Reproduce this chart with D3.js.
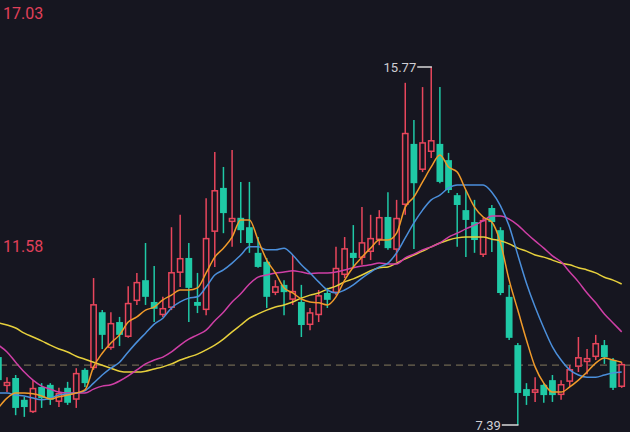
<!DOCTYPE html>
<html><head><meta charset="utf-8">
<script src="https://cdn.jsdelivr.net/npm/d3@7/dist/d3.min.js"></script>
<style>html,body{margin:0;padding:0;background:#15151f;overflow:hidden}svg{display:block}</style>
</head><body><div id="chart"></div>
<script>
// Candle data: open, high, low, close
const opens  = [8.98,8.30,8.49,7.98,7.69,8.28,8.33,7.93,8.26,7.98,8.68,8.72,10.03,9.19,9.80,9.45,10.29,10.78,10.27,9.96,10.13,10.95,11.30,10.27,10.08,11.91,12.94,12.14,12.24,12.02,11.42,11.21,10.48,10.67,10.32,10.27,9.73,9.96,10.48,10.48,10.90,11.42,11.30,11.44,11.72,12.26,11.49,12.54,13.97,13.36,13.78,13.97,13.59,12.77,12.42,12.14,11.37,12.47,11.95,10.39,9.26,8.23,8.14,8.33,8.44,8.09,8.40,8.75,8.86,8.98,9.26,8.91,8.28];
const highs  = [9.03,8.51,8.56,8.05,8.44,8.37,8.37,8.26,8.40,8.72,8.72,10.83,10.08,10.03,9.92,10.64,10.95,11.65,11.11,10.39,12.02,12.31,11.65,10.95,12.70,13.78,13.43,13.83,13.08,13.08,11.79,11.30,10.78,10.78,11.37,10.67,10.13,10.55,10.60,11.56,11.79,12.07,12.49,12.31,12.42,12.84,12.66,15.40,14.53,15.30,15.77,15.30,13.76,12.82,12.89,12.66,12.24,12.54,12.02,10.67,9.31,8.37,8.51,8.37,8.56,8.44,8.79,9.45,9.17,9.50,9.38,8.96,8.86];
const lows   = [8.40,8.16,7.62,7.58,7.67,7.79,7.86,7.81,7.86,7.79,8.28,8.68,9.17,9.15,9.24,9.43,10.20,10.20,9.80,9.92,10.08,10.62,9.80,10.01,9.96,11.09,11.88,11.56,11.65,11.42,11.07,10.13,10.43,9.96,10.20,9.45,9.61,9.80,10.13,10.43,10.83,11.09,11.14,11.25,11.60,11.49,11.21,12.31,11.51,13.31,13.64,13.05,12.82,11.56,11.32,11.42,11.32,11.44,10.43,9.38,7.39,7.86,7.93,7.91,7.93,7.98,8.28,8.63,8.58,8.91,8.82,8.21,8.26];
const closes = [8.44,8.40,7.79,7.81,8.26,8.02,7.98,8.14,7.91,8.61,8.37,10.22,9.50,9.78,9.50,10.25,10.74,10.39,10.11,10.13,10.97,11.30,10.60,10.18,11.77,12.89,12.35,12.24,11.95,11.65,11.09,10.39,10.64,10.50,10.53,9.73,10.03,10.43,10.32,11.07,11.53,11.30,11.67,11.77,12.26,11.53,12.24,14.23,13.05,14.01,14.06,13.08,12.89,12.54,12.19,11.72,12.19,12.14,10.48,9.43,8.14,8.07,8.23,8.09,8.09,8.35,8.70,8.98,8.96,9.31,8.98,8.26,8.82];

// Moving averages as drawn
const ma5  = [7.79,8.02,8.14,8.14,8.12,8.07,8.00,8.05,8.09,8.14,8.21,8.75,9.07,9.31,9.50,9.80,9.92,10.08,10.15,10.32,10.43,10.55,10.55,10.60,10.95,11.32,11.53,11.79,12.19,12.19,11.72,11.25,10.95,10.60,10.48,10.34,10.27,10.25,10.20,10.39,10.78,11.09,11.32,11.53,11.72,11.72,11.88,12.49,12.73,13.08,13.43,13.71,13.43,13.31,12.89,12.49,12.26,12.14,11.65,10.78,10.08,9.38,8.75,8.37,8.16,8.16,8.28,8.44,8.63,8.84,8.96,8.91,8.86];
const ma10 = [8.14,8.14,8.09,8.07,8.02,7.98,8.02,8.09,8.12,8.14,8.19,8.37,8.56,8.72,8.86,9.10,9.33,9.54,9.75,9.89,10.13,10.27,10.36,10.39,10.62,10.90,11.02,11.18,11.37,11.56,11.56,11.49,11.49,11.53,11.37,11.14,10.95,10.74,10.55,10.48,10.55,10.67,10.83,10.97,11.09,11.18,11.42,11.77,12.12,12.42,12.66,12.77,12.94,13.01,13.01,13.01,13.01,12.84,12.52,12.05,11.37,10.71,10.15,9.66,9.22,8.91,8.68,8.56,8.51,8.51,8.56,8.61,8.63];
const ma20 = [9.26,9.10,8.86,8.63,8.44,8.30,8.23,8.16,8.14,8.14,8.14,8.23,8.30,8.33,8.42,8.54,8.68,8.82,8.91,8.98,9.10,9.26,9.40,9.50,9.61,9.83,10.03,10.27,10.46,10.69,10.85,10.90,10.95,10.97,11.00,10.97,10.93,10.95,10.95,10.97,11.02,11.07,11.11,11.14,11.18,11.16,11.16,11.30,11.39,11.49,11.56,11.65,11.79,11.88,11.98,12.07,12.17,12.28,12.28,12.21,12.07,11.88,11.70,11.53,11.35,11.21,10.97,10.74,10.48,10.25,9.99,9.78,9.57];
const ma30 = [9.78,9.73,9.66,9.54,9.45,9.36,9.26,9.17,9.10,9.00,8.93,8.86,8.79,8.72,8.65,8.63,8.63,8.65,8.70,8.75,8.82,8.91,8.98,9.05,9.15,9.26,9.40,9.57,9.73,9.89,9.99,10.08,10.15,10.20,10.27,10.36,10.43,10.48,10.57,10.64,10.74,10.81,10.90,11.00,11.07,11.09,11.18,11.28,11.37,11.46,11.56,11.65,11.72,11.77,11.79,11.79,11.79,11.74,11.70,11.63,11.53,11.46,11.37,11.32,11.25,11.18,11.14,11.07,11.02,10.95,10.85,10.78,10.69];

const axisLabels = [17.03, 11.58];
const refLine = 8.79;
const maxMark = {value: 15.77, index: 50};
const minMark = {value: 7.39, index: 60};

const W = 630, H = 432;
const BG = "#161620", RED = "#e8465c", TEAL = "#1fc9a6";
const idx = d3.range(opens.length);
const x = d3.scaleLinear().domain([0, opens.length - 1]).range([-1.66, 621.7]);
const y = d3.scaleLinear().domain([7.39, 15.77]).range([425, 67]);

const svg = d3.select("#chart").append("svg").attr("width", W).attr("height", H);
svg.append("rect").attr("width", W).attr("height", H).attr("fill", BG);

// dashed reference line
svg.append("line").attr("x1", 0).attr("x2", W).attr("y1", y(refLine)).attr("y2", y(refLine))
  .attr("stroke", "#6e6650").attr("stroke-width", 1.2).attr("stroke-dasharray", "7,5");

// candles
const bw = 6.8;
const g = svg.append("g");
idx.forEach(i => {
  const up = closes[i] >= opens[i];
  const col = up ? RED : TEAL;
  g.append("line").attr("x1", x(i)).attr("x2", x(i)).attr("y1", y(highs[i])).attr("y2", y(lows[i]))
    .attr("stroke", col).attr("stroke-width", 1.5);
  const top = y(Math.max(opens[i], closes[i])), bot = y(Math.min(opens[i], closes[i]));
  g.append("rect").attr("x", x(i) - bw / 2 + (up ? 0.75 : 0)).attr("y", top + (up ? 0.75 : 0))
    .attr("width", up ? bw - 1.5 : bw).attr("height", Math.max(up ? bot - top - 1.5 : bot - top, 1.2))
    .attr("fill", up ? BG : TEAL).attr("stroke", up ? RED : "none").attr("stroke-width", 1.5);
});

// moving averages
const line = d3.line().x((d, i) => x(i)).y(d => y(d)).curve(d3.curveMonotoneX);
[[ma30, "#e6cf3c"], [ma20, "#cf3fa6"], [ma10, "#4b8fdb"], [ma5, "#f09a2a"]].forEach(([arr, c]) => {
  svg.append("path").datum(arr).attr("d", line).attr("fill", "none").attr("stroke", c).attr("stroke-width", 1.5);
});

// axis labels
svg.selectAll("text.ax").data(axisLabels).enter().append("text")
  .attr("x", 3).attr("y", d => y(d)).attr("dy", "0.36em")
  .attr("fill", "#e0405a").attr("font-family", "Roboto, 'Noto Sans', sans-serif").attr("font-size", 16)
  .text(d => d.toFixed(2));

// max marker
const mxX = x(maxMark.index), mxY = y(maxMark.value);
svg.append("line").attr("x1", mxX - 14).attr("x2", mxX + 0.7).attr("y1", mxY).attr("y2", mxY)
  .attr("stroke", "#d8d8d8").attr("stroke-width", 1.5);
svg.append("text").attr("x", mxX - 15).attr("y", mxY).attr("dy", "0.36em").attr("text-anchor", "end")
  .attr("fill", "#cfcfd4").attr("font-family", "Roboto, 'Noto Sans', sans-serif").attr("font-size", 13)
  .text(maxMark.value.toFixed(2));

// min marker
const mnX = x(minMark.index), mnY = y(minMark.value);
svg.append("line").attr("x1", mnX - 16).attr("x2", mnX + 0.7).attr("y1", mnY).attr("y2", mnY)
  .attr("stroke", "#d8d8d8").attr("stroke-width", 1.5);
svg.append("text").attr("x", mnX - 17).attr("y", mnY).attr("dy", "0.36em").attr("text-anchor", "end")
  .attr("fill", "#cfcfd4").attr("font-family", "Roboto, 'Noto Sans', sans-serif").attr("font-size", 13)
  .text(minMark.value.toFixed(2));
</script></body></html>
